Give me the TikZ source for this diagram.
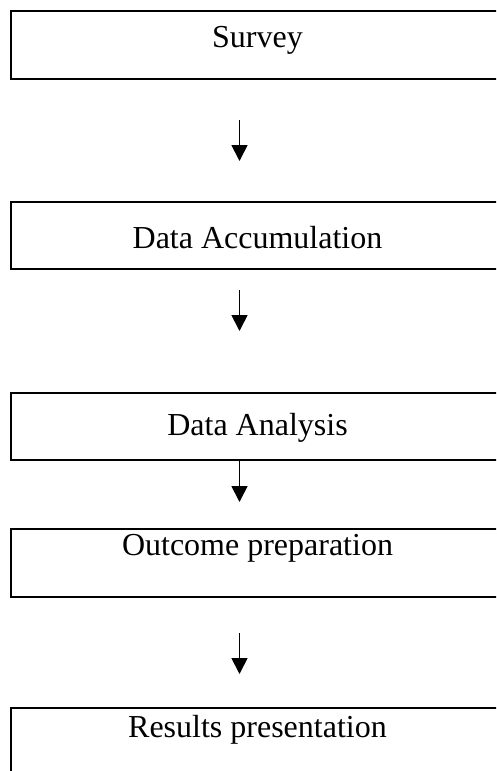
\documentclass[tikz,border=0pt]{standalone}
\usepackage{fontspec}
\setmainfont{Liberation Serif}
\usetikzlibrary{arrows.meta}
\begin{document}
\begin{tikzpicture}[x=1pt,y=-1pt,
  stepbox/.style={draw=black,line width=2.3pt},
  steptext/.style={anchor=base,inner sep=0pt,font=\fontsize{32}{36}\selectfont},
  flow/.style={line width=1.8pt,-{Triangle[width=16pt,length=16pt]}}]
\useasboundingbox (0,0) rectangle (496,771);
\begin{scope}
\clip (0,0) rectangle (496,771);
\draw[stepbox] (11,11) rectangle (504,79);
\draw[stepbox] (11,202) rectangle (504,269);
\draw[stepbox] (11,393) rectangle (504,460);
\draw[stepbox] (11,529) rectangle (504,597);
\draw[stepbox] (11,708) rectangle (504,800);
\end{scope}
\node[steptext] (t1) at (257.5,47) {Survey};
\node[steptext] (t2) at (257.5,248) {Data Accumulation};
\node[steptext] (t3) at (257.5,435) {Data Analysis};
\node[steptext] (t4) at (257.5,555) {Outcome preparation};
\node[steptext] (t5) at (257.5,737) {Results presentation};
\coordinate (a1s) at (239.5,120); \coordinate (a1e) at (239.5,161);
\coordinate (a2s) at (239.5,290); \coordinate (a2e) at (239.5,331);
\coordinate (a3s) at (239.5,460); \coordinate (a3e) at (239.5,502);
\coordinate (a4s) at (239.5,633); \coordinate (a4e) at (239.5,674);
\draw[flow] (a1s) -- (a1e);
\draw[flow] (a2s) -- (a2e);
\draw[flow] (a3s) -- (a3e);
\draw[flow] (a4s) -- (a4e);
\end{tikzpicture}
\end{document}
